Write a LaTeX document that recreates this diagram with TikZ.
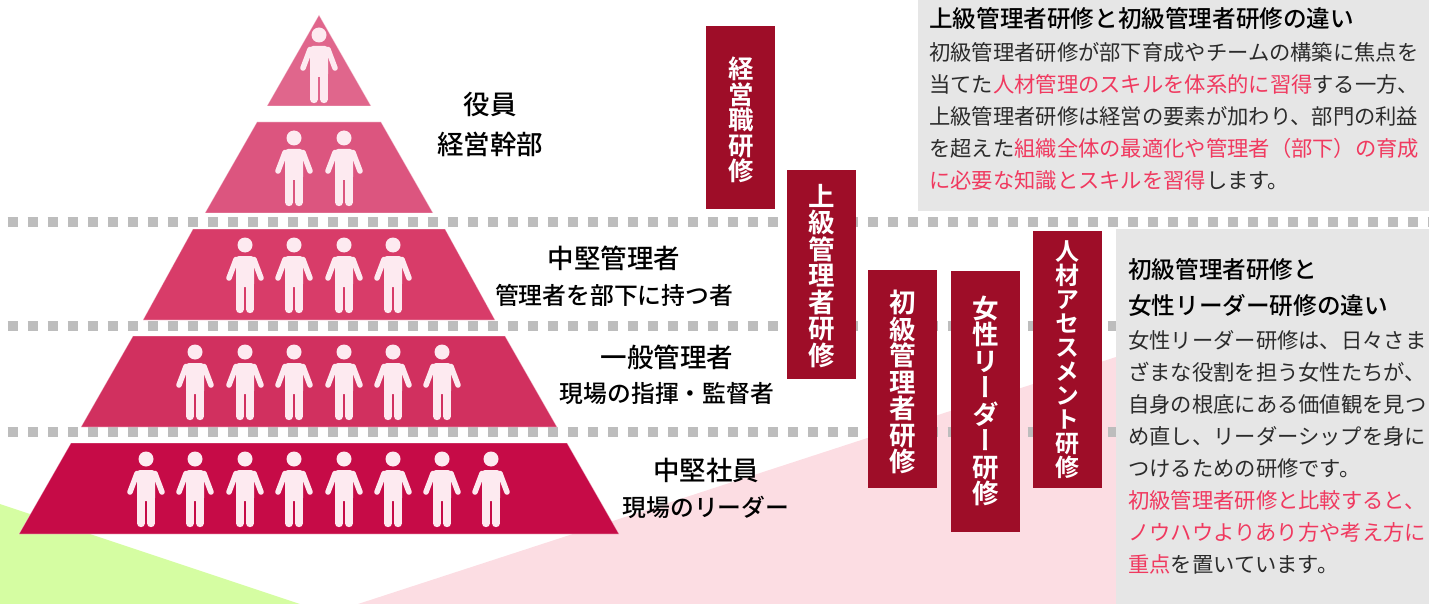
\documentclass[tikz,border=0pt]{standalone}
\usepackage{fontspec}
\setmainfont{Noto Sans CJK JP}
\newfontfamily\medfont{Noto Sans CJK JP Medium}
\newfontfamily\tatefont[RawFeature=+vert]{Noto Sans CJK JP Bold}
\definecolor{boxred}{HTML}{9E0D28}
\definecolor{accent}{HTML}{F0395F}
\definecolor{bodytext}{HTML}{2B2B2B}
\definecolor{palegrey}{HTML}{E6E6E6}
\definecolor{dotgrey}{HTML}{BDBDBD}
\definecolor{palepink}{HTML}{FCDDE3}
\definecolor{palegreen}{HTML}{D5FDA2}
\definecolor{figure}{HTML}{FDEAF0}
\definecolor{layera}{HTML}{E0668C}
\definecolor{layerb}{HTML}{DC557F}
\definecolor{layerc}{HTML}{D83C69}
\definecolor{layerd}{HTML}{D1305F}
\definecolor{layere}{HTML}{C60B47}
\newcommand{\hl}[1]{\textcolor{accent}{#1}}
\tikzset{
    person/.pic={
        \fill[figure] (0,0) circle (7.5);
        \fill[figure, rounded corners=3] (-9,11) rectangle (9,42);
        \draw[figure, line width=5.5pt, line cap=round] (-9,14.5) -- (-16,33);
        \draw[figure, line width=5.5pt, line cap=round] (9,14.5) -- (16,33);
        \draw[figure, line width=8pt, line cap=round] (-5,40) -- (-5,64.2);
        \draw[figure, line width=8pt, line cap=round] (5,40) -- (5,64.2);
    },
    layer/.style={fill=#1, draw=white, draw opacity=0.4, line width=0.7pt},
    tatebox/.style={text=white, align=center, inner sep=0pt,
        font=\tatefont\fontsize{#1}{#1}\selectfont},
    biglab/.style={inner sep=0pt, font=\medfont\fontsize{26.5}{26.5}\selectfont},
    smalllab/.style={inner sep=0pt, font=\medfont\fontsize{23.8}{23.8}\selectfont},
    notehead/.style={inner sep=0pt, anchor=north west, align=left, font=\medfont\fontsize{23.6}{36}\selectfont},
    notebody/.style={inner sep=0pt, anchor=north west, align=left, text=bodytext, font=\fontsize{21.3}{32}\selectfont},
}
\begin{document}
\begin{tikzpicture}[x=1pt, y=-1pt]
    \useasboundingbox (0,0) rectangle (1429,604);

    % Background
    \fill[palegreen] (0,504) -- (300,604) -- (0,604) -- cycle;
    \fill[palepink] (358,604) -- (1116,357) -- (1116,604) -- cycle;

    % Dotted rows
    \foreach \y in {222,326,432} {
        \draw[dotgrey, line width=10pt, dash pattern=on 10pt off 10pt] (7.5,\y) -- (1429,\y);
    }

    % Pyramid
    \path[layer=layera] (319,15) -- (371,106) -- (267,106) -- cycle;
    \path[layer=layerb] (257,122) -- (381,122) -- (433,213) -- (205,213) -- cycle;
    \path[layer=layerc] (193,229) -- (445,229) -- (495,320) -- (143,320) -- cycle;
    \path[layer=layerd] (133,336) -- (505,336) -- (557,427) -- (81,427) -- cycle;
    \path[layer=layere] (71,443) -- (567,443) -- (619,534) -- (19,534) -- cycle;

    % People
    \pic at (319,35) {person};
    \foreach \x in {294,344} \pic at (\x,138) {person};
    \foreach \x in {245,294,344,393} \pic at (\x,245) {person};
    \foreach \x in {195,245,294,344,393,442} \pic at (\x,352) {person};
    \foreach \x in {146,195,245,294,344,393,442,491} \pic at (\x,459) {person};

    % Level labels
    \node[biglab] (yakuin) at (490,104) {役員};
    \node[biglab] (keiei) at (490,144) {経営幹部};
    \node[biglab] (chuken) at (614,258) {中堅管理者};
    \node[smalllab] (buka) at (614,295) {管理者を部下に持つ者};
    \node[biglab] (ippan) at (667,357) {一般管理者};
    \node[smalllab] (kantoku) at (667,394) {現場の指揮・監督者};
    \node[biglab] (shain) at (706,470) {中堅社員};
    \node[smalllab] (leader) at (706,507) {現場のリーダー};

    % Training columns
    \fill[boxred] (706,26) rectangle (775,209);
    \fill[boxred] (787,170) rectangle (856,379);
    \fill[boxred] (868,270) rectangle (937,488);
    \fill[boxred] (951,271) rectangle (1020,532);
    \fill[boxred] (1033,231) rectangle (1102,488);
    \node[tatebox=25.5] (keieiken) at (741,120) {経\\営\\職\\研\\修};
    \node[tatebox=26.5] (jokyu) at (822,276) {上\\級\\管\\理\\者\\研\\修};
    \node[tatebox=26.5] (shokyu) at (903,382) {初\\級\\管\\理\\者\\研\\修};
    \node[tatebox=26.5] (josei) at (986,401) {女\\性\\リ\\ー\\ダ\\ー\\研\\修};
    \node[tatebox=24] (jinzai) at (1067.5,360) {人\\材\\ア\\セ\\ス\\メ\\ン\\ト\\研\\修};

    % Notes
    \fill[palegrey] (918,0) rectangle (1429,211);
    \fill[palegrey] (1116,229) rectangle (1429,604);
    \node[notehead] (head1) at (929,7) {上級管理者研修と初級管理者研修の違い};
    \node[notebody] (body1) at (929,42) {初級管理者研修が部下育成やチームの構築に焦点を\\
        当てた\hl{人材管理のスキルを体系的に習得}する一方、\\
        上級管理者研修は経営の要素が加わり、部門の利益\\
        を超えた\hl{組織全体の最適化や管理者（部下）の育成}\\
        \hl{に必要な知識とスキルを習得}します。};
    \node[notehead] (head2) at (1128,258) {初級管理者研修と\\女性リーダー研修の違い};
    \node[notebody] (body2) at (1128,330) {女性リーダー研修は、日々さま\\
        ざまな役割を担う女性たちが、\\
        自身の根底にある価値観を見つ\\
        め直し、リーダーシップを身に\\
        つけるための研修です。\\
        \hl{初級管理者研修と比較すると、}\\
        \hl{ノウハウよりあり方や考え方に}\\
        \hl{重点}を置いています。};
\end{tikzpicture}
\end{document}
